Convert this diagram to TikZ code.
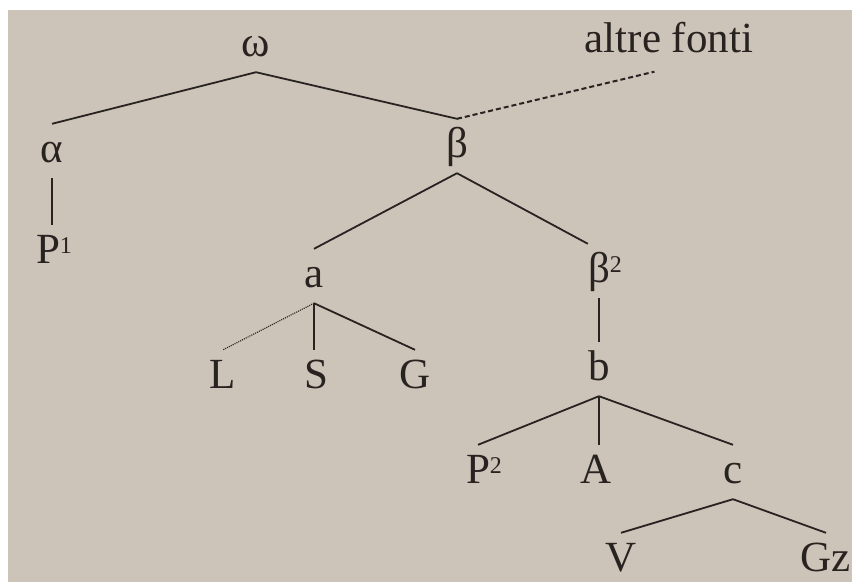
\documentclass[tikz,border=0pt]{standalone}
\usepackage{fontspec}
\setmainfont{Liberation Serif}
\usepackage{xcolor}
\definecolor{paper}{RGB}{204,196,184}
\definecolor{ink}{RGB}{40,35,33}

\newcommand{\apex}[1]{\rlap{\raisebox{10pt}{\fontsize{24}{24}\selectfont #1}}}

\begin{document}
\begin{tikzpicture}[
        x=1pt, y=-1pt,
        witness/.style={
            anchor=base, inner sep=0pt, text=ink,
            text height=38pt, text depth=16pt,
            font=\fontsize{43}{48}\selectfont
        },
        leaf/.style={witness, text depth=0pt},
        branch/.style={draw=ink, line width=1.8pt},
        lost/.style={branch, line width=2pt, dash pattern=on 5pt off 3pt},
        faint/.style={branch, line width=1.1pt, densely dotted}
    ]

        \useasboundingbox (0,0) rectangle (852,582);
        \fill[white] (0,0) rectangle (852,582);
        \fill[paper] (8,10) rectangle (852,582);

        % archetype and first split
        \node[witness] (omega) at (256,56) {ω};
        \node[witness] (altre) at (669,52) {altre fonti};
        \node[witness] (alpha) at (52,162) {α};
        \node[witness] (beta) at (457,157) {β};
        \node[leaf] (P1) at (48,263) {P\apex{1}};

        % second level
        \node[witness] (a) at (314,287) {a};
        \node[witness] (beta2) at (599,282) {β\apex{2}};
        \node[leaf] (L) at (223,388) {L};
        \node[leaf] (S) at (316,388) {S};
        \node[leaf] (G) at (415,388) {G};
        \node[witness] (b) at (599,380) {b};

        % lower branches
        \node[leaf] (P2) at (478,483) {P\apex{2}};
        \node[leaf] (A) at (596,483) {A};
        \node[witness] (c) at (733,483) {c};
        \node[leaf] (V) at (621,571) {V};
        \node[leaf] (Gz) at (826,571) {Gz};

        \draw[branch] (omega.south) -- (alpha.north);
        \draw[branch] (omega.south) -- (beta.north);
        \draw[lost, shorten >=15pt] (beta.north) -- (altre.south);
        \draw[branch] (alpha.south) -- (alpha.south |- P1.north);
        \draw[branch] (beta.south) -- (a.north);
        \draw[branch] (beta.south) -- (beta2.north west);
        \draw[branch] (beta2.south) -- (beta2.south |- b.north);
        \draw[faint] (a.south) -- (L.north);
        \draw[branch] (a.south) -- (a.south |- S.north);
        \draw[branch] (a.south) -- (G.north);
        \draw[branch] (b.south) -- (P2.north);
        \draw[branch] (b.south) -- (b.south |- A.north);
        \draw[branch] (b.south) -- (c.north);
        \draw[branch] (c.south) -- (V.north);
        \draw[branch] (c.south) -- (Gz.north);

    \end{tikzpicture}
\end{document}
